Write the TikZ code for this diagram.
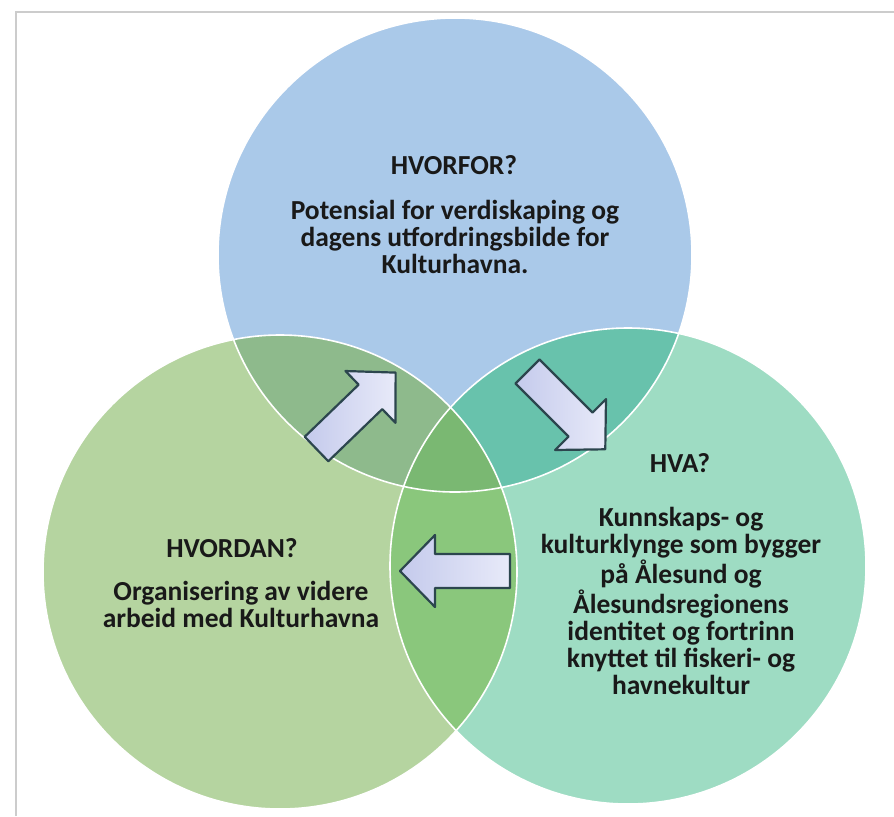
\documentclass[tikz,border=0pt]{standalone}
\usepackage{fontspec}
\setmainfont{Carlito}
\usetikzlibrary{positioning}

\definecolor{whyblue}{RGB}{170,201,233}
\definecolor{howgreen}{RGB}{181,212,160}
\definecolor{whatteal}{RGB}{158,220,195}
\definecolor{bluegreen}{RGB}{142,186,140}
\definecolor{blueteal}{RGB}{104,194,172}
\definecolor{greenteal}{RGB}{138,199,124}
\definecolor{allthree}{RGB}{122,184,114}
\definecolor{arrowdark}{RGB}{196,202,236}
\definecolor{arrowlight}{RGB}{232,234,249}
\definecolor{arrowline}{RGB}{44,70,78}
\definecolor{framegray}{RGB}{204,204,204}

\tikzset{
  head text/.style={font=\bfseries\fontsize{13.75}{13.5}\selectfont, align=center, text=black!90},
  body text/.style={head text},
  pics/blockarrow/.style={code={
    \shade[left color=arrowdark, right color=arrowlight, draw=arrowline, line width=1.1pt, line join=round]
      (0,-17) -- (75,-17) -- (75,-36) -- (110,0) -- (75,36) -- (75,17) -- (0,17) -- cycle;
  }}
}

\begin{document}
\begin{tikzpicture}[x=0.5pt, y=-0.5pt]
    \useasboundingbox (0,0) rectangle (894,816);
    \fill[white] (0,0) rectangle (894,816);

    % frame
    \draw[framegray, line width=1pt] (15.5,816) -- (15.5,11.5) -- (894,11.5);

    \coordinate (why) at (455,255);
    \coordinate (how) at (280,572);
    \coordinate (what) at (628,566);

    % circles
    \fill[whyblue] (why) circle (237);
    \fill[howgreen] (how) circle (237);
    \fill[whatteal] (what) circle (238);

    % overlaps
    \begin{scope}
        \clip (why) circle (237);
        \fill[bluegreen] (how) circle (237);
        \fill[blueteal] (what) circle (238);
    \end{scope}
    \begin{scope}
        \clip (how) circle (237);
        \fill[greenteal] (what) circle (238);
        \clip (what) circle (238);
        \fill[allthree] (why) circle (237);
    \end{scope}

    \draw[white, line width=0.8pt] (why) circle (237);
    \draw[white, line width=0.8pt] (how) circle (237);
    \draw[white, line width=0.8pt] (what) circle (238);

    % arrows
    \pic[shift={(316.5,449)}, rotate=44] {blockarrow};
    \pic[shift={(527.5,371.5)}, rotate=-45] {blockarrow};
    \pic[shift={(510,571)}, rotate=180] {blockarrow};

    % texts
    \node[head text] (whyhead) at (454,165) {HVORFOR?};
    \node[body text] (whybody) at (455,237) {Potensial for verdiskaping og\\dagens utfordringsbilde for\\Kulturhavna.};

    \node[head text] (whathead) at (680,463) {HVA?};
    \node[body text] (whatbody) at (681,601) {Kunnskaps- og\\kulturklynge som bygger\\på Ålesund og\\Ålesundsregionens\\identitet og fortrinn\\knyttet til fiskeri- og\\havnekultur};

    \node[head text] (howhead) at (232,548) {HVORDAN?};
    \node[body text] (howbody) at (241,604) {Organisering av videre\\arbeid med Kulturhavna};
\end{tikzpicture}
\end{document}
